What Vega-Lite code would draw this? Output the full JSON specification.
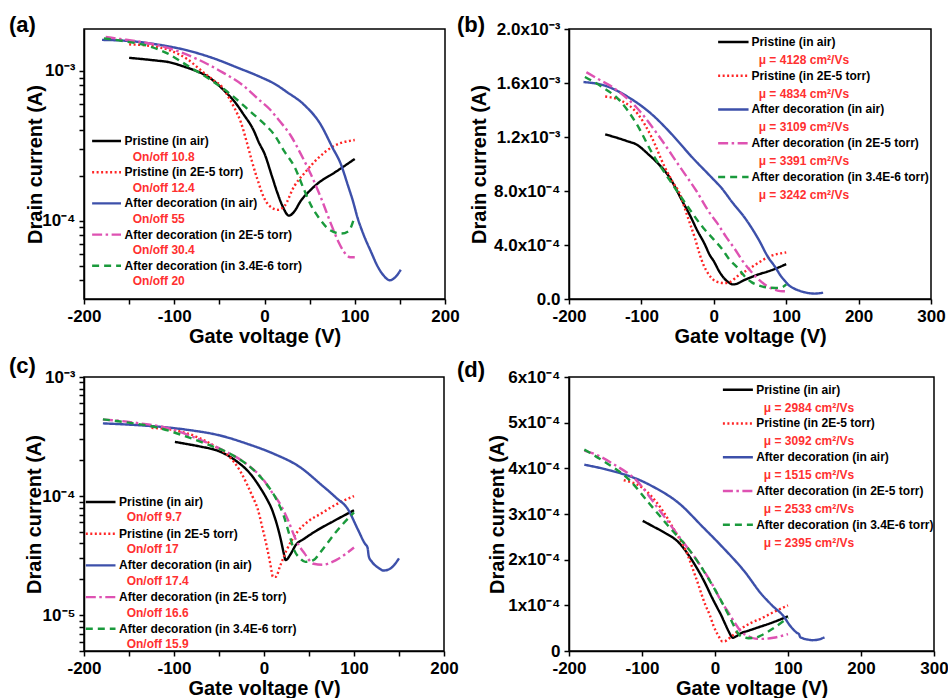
{
  "$schema": "https://vega.github.io/schema/vega-lite/v6.json",
  "background": "white",
  "padding": {"left": 8, "top": 13, "right": 0, "bottom": 0},
  "bounds": "flush",
  "columns": 2,
  "spacing": {"row": 78, "column": 124},
  "config": {
    "font": "Liberation Sans",
    "view": {"stroke": "black", "strokeWidth": 1.5},
    "axis": {"labelFont": "Liberation Sans", "titleFont": "Liberation Sans", "labelFontSize": 17, "labelFontWeight": "bold", "titleFontSize": 20, "titleFontWeight": "bold", "labelColor": "black", "titleColor": "black", "domainColor": "black", "domainWidth": 1.5, "tickColor": "black", "tickWidth": 1.5, "tickSize": 5, "grid": false, "labelPadding": 4, "labelOverlap": false, "labelFlush": false},
    "axisX": {"minExtent": 26, "maxExtent": 26, "titlePadding": 1},
    "legend": {"disable": true},
    "line": {"interpolate": "monotone", "strokeWidth": 2.4},
    "title": {"font": "Liberation Sans", "color": "black", "fontSize": 22, "fontWeight": "bold", "anchor": "start", "frame": "group", "offset": 0},
    "text": {"font": "Liberation Sans", "color": "black"}
  },
  "datasets": {
    "bi": [
      {"s":"Pristine air","v":-150,"i":1.22e-3},{"s":"Pristine air","v":-120,"i":1.17e-3},{"s":"Pristine air","v":-107,"i":1.145e-3},{"s":"Pristine air","v":-90,"i":1.07e-3},{"s":"Pristine air","v":-80,"i":1.02e-3},{"s":"Pristine air","v":-61,"i":0.90e-3},{"s":"Pristine air","v":-43,"i":0.72e-3},{"s":"Pristine air","v":-32,"i":0.61e-3},{"s":"Pristine air","v":-24,"i":0.52e-3},{"s":"Pristine air","v":-12,"i":0.40e-3},{"s":"Pristine air","v":-6,"i":0.33e-3},{"s":"Pristine air","v":0,"i":0.28e-3},{"s":"Pristine air","v":8,"i":0.20e-3},{"s":"Pristine air","v":14,"i":0.155e-3},{"s":"Pristine air","v":20,"i":0.125e-3},{"s":"Pristine air","v":27,"i":0.108e-3},{"s":"Pristine air","v":33,"i":0.115e-3},{"s":"Pristine air","v":40,"i":0.135e-3},{"s":"Pristine air","v":50,"i":0.158e-3},{"s":"Pristine air","v":59,"i":0.177e-3},{"s":"Pristine air","v":78,"i":0.21e-3},{"s":"Pristine air","v":100,"i":0.258e-3},
      {"s":"Pristine 2E-5","v":-150,"i":1.50e-3},{"s":"Pristine 2E-5","v":-128,"i":1.47e-3},{"s":"Pristine 2E-5","v":-105,"i":1.37e-3},{"s":"Pristine 2E-5","v":-86,"i":1.20e-3},{"s":"Pristine 2E-5","v":-68,"i":0.98e-3},{"s":"Pristine 2E-5","v":-56,"i":0.86e-3},{"s":"Pristine 2E-5","v":-47,"i":0.78e-3},{"s":"Pristine 2E-5","v":-40,"i":0.67e-3},{"s":"Pristine 2E-5","v":-33,"i":0.56e-3},{"s":"Pristine 2E-5","v":-26,"i":0.45e-3},{"s":"Pristine 2E-5","v":-20,"i":0.34e-3},{"s":"Pristine 2E-5","v":-14,"i":0.25e-3},{"s":"Pristine 2E-5","v":-8,"i":0.19e-3},{"s":"Pristine 2E-5","v":0,"i":0.14e-3},{"s":"Pristine 2E-5","v":8,"i":0.122e-3},{"s":"Pristine 2E-5","v":15,"i":0.118e-3},{"s":"Pristine 2E-5","v":22,"i":0.125e-3},{"s":"Pristine 2E-5","v":33,"i":0.17e-3},{"s":"Pristine 2E-5","v":45,"i":0.21e-3},{"s":"Pristine 2E-5","v":59,"i":0.26e-3},{"s":"Pristine 2E-5","v":77,"i":0.315e-3},{"s":"Pristine 2E-5","v":100,"i":0.345e-3},
      {"s":"Decorated air","v":-180,"i":1.607e-3},{"s":"Decorated air","v":-150,"i":1.58e-3},{"s":"Decorated air","v":-118,"i":1.495e-3},{"s":"Decorated air","v":-86,"i":1.37e-3},{"s":"Decorated air","v":-58,"i":1.22e-3},{"s":"Decorated air","v":-30,"i":1.05e-3},{"s":"Decorated air","v":-3,"i":0.90e-3},{"s":"Decorated air","v":11,"i":0.82e-3},{"s":"Decorated air","v":25,"i":0.72e-3},{"s":"Decorated air","v":43,"i":0.60e-3},{"s":"Decorated air","v":62,"i":0.44e-3},{"s":"Decorated air","v":75,"i":0.31e-3},{"s":"Decorated air","v":85,"i":0.235e-3},{"s":"Decorated air","v":92,"i":0.175e-3},{"s":"Decorated air","v":98,"i":0.135e-3},{"s":"Decorated air","v":103,"i":0.105e-3},{"s":"Decorated air","v":110,"i":0.08e-3},{"s":"Decorated air","v":118,"i":0.062e-3},{"s":"Decorated air","v":125,"i":0.05e-3},{"s":"Decorated air","v":132,"i":0.043e-3},{"s":"Decorated air","v":139,"i":0.040e-3},{"s":"Decorated air","v":145,"i":0.042e-3},{"s":"Decorated air","v":151,"i":0.047e-3},
      {"s":"Decorated 2E-5","v":-176,"i":1.68e-3},{"s":"Decorated 2E-5","v":-160,"i":1.63e-3},{"s":"Decorated 2E-5","v":-140,"i":1.57e-3},{"s":"Decorated 2E-5","v":-107,"i":1.42e-3},{"s":"Decorated 2E-5","v":-75,"i":1.20e-3},{"s":"Decorated 2E-5","v":-47,"i":0.98e-3},{"s":"Decorated 2E-5","v":-24,"i":0.80e-3},{"s":"Decorated 2E-5","v":-6,"i":0.64e-3},{"s":"Decorated 2E-5","v":5,"i":0.56e-3},{"s":"Decorated 2E-5","v":17,"i":0.46e-3},{"s":"Decorated 2E-5","v":29,"i":0.37e-3},{"s":"Decorated 2E-5","v":40,"i":0.28e-3},{"s":"Decorated 2E-5","v":52,"i":0.20e-3},{"s":"Decorated 2E-5","v":63,"i":0.14e-3},{"s":"Decorated 2E-5","v":74,"i":0.094e-3},{"s":"Decorated 2E-5","v":82,"i":0.072e-3},{"s":"Decorated 2E-5","v":88,"i":0.062e-3},{"s":"Decorated 2E-5","v":95,"i":0.057e-3},{"s":"Decorated 2E-5","v":100,"i":0.057e-3},
      {"s":"Decorated 3.4E-6","v":-178,"i":1.645e-3},{"s":"Decorated 3.4E-6","v":-154,"i":1.57e-3},{"s":"Decorated 3.4E-6","v":-130,"i":1.47e-3},{"s":"Decorated 3.4E-6","v":-107,"i":1.30e-3},{"s":"Decorated 3.4E-6","v":-84,"i":1.07e-3},{"s":"Decorated 3.4E-6","v":-61,"i":0.88e-3},{"s":"Decorated 3.4E-6","v":-38,"i":0.70e-3},{"s":"Decorated 3.4E-6","v":-15,"i":0.53e-3},{"s":"Decorated 3.4E-6","v":0,"i":0.44e-3},{"s":"Decorated 3.4E-6","v":10,"i":0.38e-3},{"s":"Decorated 3.4E-6","v":22,"i":0.29e-3},{"s":"Decorated 3.4E-6","v":33,"i":0.23e-3},{"s":"Decorated 3.4E-6","v":44,"i":0.16e-3},{"s":"Decorated 3.4E-6","v":52,"i":0.125e-3},{"s":"Decorated 3.4E-6","v":60,"i":0.105e-3},{"s":"Decorated 3.4E-6","v":72,"i":0.087e-3},{"s":"Decorated 3.4E-6","v":85,"i":0.082e-3},{"s":"Decorated 3.4E-6","v":93,"i":0.085e-3},{"s":"Decorated 3.4E-6","v":100,"i":0.107e-3}
    ],
    "mono": [
      {"s":"Pristine air","v":-99,"i":2.85e-4},{"s":"Pristine air","v":-85,"i":2.73e-4},{"s":"Pristine air","v":-70,"i":2.6e-4},{"s":"Pristine air","v":-50,"i":2.38e-4},{"s":"Pristine air","v":-32,"i":2.0e-4},{"s":"Pristine air","v":-14,"i":1.5e-4},{"s":"Pristine air","v":-5,"i":1.2e-4},{"s":"Pristine air","v":4,"i":0.92e-4},{"s":"Pristine air","v":8,"i":0.8e-4},{"s":"Pristine air","v":12,"i":0.66e-4},{"s":"Pristine air","v":16,"i":0.52e-4},{"s":"Pristine air","v":19,"i":0.42e-4},{"s":"Pristine air","v":22,"i":0.33e-4},{"s":"Pristine air","v":24,"i":0.29e-4},{"s":"Pristine air","v":30,"i":0.33e-4},{"s":"Pristine air","v":35,"i":0.385e-4},{"s":"Pristine air","v":45,"i":0.44e-4},{"s":"Pristine air","v":56,"i":0.5e-4},{"s":"Pristine air","v":78,"i":0.62e-4},{"s":"Pristine air","v":100,"i":0.76e-4},
      {"s":"Pristine 2E-5","v":-125,"i":3.74e-4},{"s":"Pristine 2E-5","v":-100,"i":3.58e-4},{"s":"Pristine 2E-5","v":-72,"i":3.08e-4},{"s":"Pristine 2E-5","v":-54,"i":2.6e-4},{"s":"Pristine 2E-5","v":-40,"i":2.2e-4},{"s":"Pristine 2E-5","v":-26,"i":1.6e-4},{"s":"Pristine 2E-5","v":-13,"i":1.0e-4},{"s":"Pristine 2E-5","v":-7,"i":0.78e-4},{"s":"Pristine 2E-5","v":-2,"i":0.55e-4},{"s":"Pristine 2E-5","v":3,"i":0.38e-4},{"s":"Pristine 2E-5","v":7,"i":0.27e-4},{"s":"Pristine 2E-5","v":10,"i":0.21e-4},{"s":"Pristine 2E-5","v":13,"i":0.21e-4},{"s":"Pristine 2E-5","v":18,"i":0.26e-4},{"s":"Pristine 2E-5","v":25,"i":0.35e-4},{"s":"Pristine 2E-5","v":37,"i":0.5e-4},{"s":"Pristine 2E-5","v":50,"i":0.62e-4},{"s":"Pristine 2E-5","v":63,"i":0.71e-4},{"s":"Pristine 2E-5","v":80,"i":0.85e-4},{"s":"Pristine 2E-5","v":100,"i":1.0e-4},
      {"s":"Decorated air","v":-179,"i":4.08e-4},{"s":"Decorated air","v":-150,"i":3.98e-4},{"s":"Decorated air","v":-127,"i":3.88e-4},{"s":"Decorated air","v":-100,"i":3.72e-4},{"s":"Decorated air","v":-85,"i":3.6e-4},{"s":"Decorated air","v":-49,"i":3.23e-4},{"s":"Decorated air","v":-17,"i":2.72e-4},{"s":"Decorated air","v":10,"i":2.28e-4},{"s":"Decorated air","v":40,"i":1.75e-4},{"s":"Decorated air","v":65,"i":1.22e-4},{"s":"Decorated air","v":72,"i":1.1e-4},{"s":"Decorated air","v":80,"i":0.97e-4},{"s":"Decorated air","v":93,"i":0.78e-4},{"s":"Decorated air","v":104,"i":0.53e-4},{"s":"Decorated air","v":112,"i":0.40e-4},{"s":"Decorated air","v":115,"i":0.37e-4},{"s":"Decorated air","v":116.5,"i":0.31e-4},{"s":"Decorated air","v":120,"i":0.28e-4},{"s":"Decorated air","v":127,"i":0.25e-4},{"s":"Decorated air","v":133,"i":0.237e-4},{"s":"Decorated air","v":140,"i":0.245e-4},{"s":"Decorated air","v":150,"i":0.30e-4},
      {"s":"Decorated 2E-5","v":-179,"i":4.39e-4},{"s":"Decorated 2E-5","v":-160,"i":4.28e-4},{"s":"Decorated 2E-5","v":-140,"i":4.1e-4},{"s":"Decorated 2E-5","v":-108,"i":3.74e-4},{"s":"Decorated 2E-5","v":-76,"i":3.08e-4},{"s":"Decorated 2E-5","v":-49,"i":2.5e-4},{"s":"Decorated 2E-5","v":-22,"i":1.92e-4},{"s":"Decorated 2E-5","v":0,"i":1.35e-4},{"s":"Decorated 2E-5","v":8,"i":1.1e-4},{"s":"Decorated 2E-5","v":19,"i":0.83e-4},{"s":"Decorated 2E-5","v":27,"i":0.62e-4},{"s":"Decorated 2E-5","v":36,"i":0.42e-4},{"s":"Decorated 2E-5","v":45,"i":0.33e-4},{"s":"Decorated 2E-5","v":55,"i":0.27e-4},{"s":"Decorated 2E-5","v":65,"i":0.265e-4},{"s":"Decorated 2E-5","v":80,"i":0.29e-4},{"s":"Decorated 2E-5","v":100,"i":0.37e-4},
      {"s":"Decorated 3.4E-6","v":-179,"i":4.41e-4},{"s":"Decorated 3.4E-6","v":-154,"i":4.17e-4},{"s":"Decorated 3.4E-6","v":-117,"i":3.74e-4},{"s":"Decorated 3.4E-6","v":-90,"i":3.23e-4},{"s":"Decorated 3.4E-6","v":-63,"i":2.72e-4},{"s":"Decorated 3.4E-6","v":-35,"i":2.21e-4},{"s":"Decorated 3.4E-6","v":-8,"i":1.56e-4},{"s":"Decorated 3.4E-6","v":5,"i":1.2e-4},{"s":"Decorated 3.4E-6","v":15,"i":0.9e-4},{"s":"Decorated 3.4E-6","v":22,"i":0.68e-4},{"s":"Decorated 3.4E-6","v":28,"i":0.48e-4},{"s":"Decorated 3.4E-6","v":33,"i":0.36e-4},{"s":"Decorated 3.4E-6","v":40,"i":0.3e-4},{"s":"Decorated 3.4E-6","v":46,"i":0.28e-4},{"s":"Decorated 3.4E-6","v":55,"i":0.29e-4},{"s":"Decorated 3.4E-6","v":63,"i":0.34e-4},{"s":"Decorated 3.4E-6","v":80,"i":0.5e-4},{"s":"Decorated 3.4E-6","v":100,"i":0.73e-4}
    ],
    "leg": [
      {"p":"a","k":0,"s":"Pristine air","label":"Pristine (in air)","sub":"On/off  10.8"},
      {"p":"a","k":1,"s":"Pristine 2E-5","label":"Pristine  (in 2E-5 torr)","sub":"On/off  12.4"},
      {"p":"a","k":2,"s":"Decorated air","label":"After decoration (in air)","sub":"On/off  55"},
      {"p":"a","k":3,"s":"Decorated 2E-5","label":"After decoration (in 2E-5 torr)","sub":"On/off  30.4"},
      {"p":"a","k":4,"s":"Decorated 3.4E-6","label":"After decoration (in 3.4E-6 torr)","sub":"On/off  20"},
      {"p":"b","k":0,"s":"Pristine air","label":"Pristine (in air)","sub":"μ = 4128  cm²/Vs"},
      {"p":"b","k":1,"s":"Pristine 2E-5","label":"Pristine  (in 2E-5 torr)","sub":"μ = 4834  cm²/Vs"},
      {"p":"b","k":2,"s":"Decorated air","label":"After decoration (in air)","sub":"μ = 3109  cm²/Vs"},
      {"p":"b","k":3,"s":"Decorated 2E-5","label":"After decoration (in 2E-5 torr)","sub":"μ = 3391  cm²/Vs"},
      {"p":"b","k":4,"s":"Decorated 3.4E-6","label":"After decoration (in 3.4E-6 torr)","sub":"μ = 3242  cm²/Vs"},
      {"p":"c","k":0,"s":"Pristine air","label":"Pristine (in air)","sub":"On/off  9.7"},
      {"p":"c","k":1,"s":"Pristine 2E-5","label":"Pristine  (in 2E-5 torr)","sub":"On/off  17"},
      {"p":"c","k":2,"s":"Decorated air","label":"After decoration (in air)","sub":"On/off  17.4"},
      {"p":"c","k":3,"s":"Decorated 2E-5","label":"After decoration (in 2E-5 torr)","sub":"On/off  16.6"},
      {"p":"c","k":4,"s":"Decorated 3.4E-6","label":"After decoration (in 3.4E-6 torr)","sub":"On/off  15.9"},
      {"p":"d","k":0,"s":"Pristine air","label":"Pristine (in air)","sub":"μ = 2984  cm²/Vs"},
      {"p":"d","k":1,"s":"Pristine 2E-5","label":"Pristine  (in 2E-5 torr)","sub":"μ = 3092  cm²/Vs"},
      {"p":"d","k":2,"s":"Decorated air","label":"After decoration (in air)","sub":"μ = 1515  cm²/Vs"},
      {"p":"d","k":3,"s":"Decorated 2E-5","label":"After decoration (in 2E-5 torr)","sub":"μ = 2533  cm²/Vs"},
      {"p":"d","k":4,"s":"Decorated 3.4E-6","label":"After decoration (in 3.4E-6 torr)","sub":"μ = 2395  cm²/Vs"}
    ]
  },
  "concat": [
    {
      "width": 361, "height": 270,
      "title": {"text": "(a)", "dx": -75, "dy": 12},
      "resolve": {"scale": {"y": "independent"}},
      "layer": [
        {"layer": [
          {"data": {"name": "bi"}, "mark": {"type": "line"},
           "encoding": {
             "x": {"field": "v", "type": "quantitative", "scale": {"domain": [-200, 200], "nice": false}, "axis": {"title": "Gate voltage (V)", "values": [-200,-150,-100,-50,0,50,100,150,200], "labelExpr": "datum.value % 100 == 0 ? '' + datum.value : ''"}},
             "y": {"field": "i", "type": "quantitative", "scale": {"type": "log", "domain": [3e-5, 1.9e-3], "nice": false}, "axis": {"title": "Drain current (A)", "minExtent": 36, "maxExtent": 36, "titlePadding": 3, "values": [4e-5,5e-5,6e-5,7e-5,8e-5,9e-5,1e-4,2e-4,3e-4,4e-4,5e-4,6e-4,7e-4,8e-4,9e-4,1e-3], "labelExpr": "datum.value == 1e-3 ? '10⁻³' : datum.value == 1e-4 ? '10⁻⁴' : ''"}},
             "color": {"field": "s", "type": "nominal", "scale": {"domain": ["Pristine air","Pristine 2E-5","Decorated air","Decorated 2E-5","Decorated 3.4E-6"], "range": ["#000000","#ff2525","#3d50aa","#de52b2","#1a9a3c"]}},
             "strokeDash": {"field": "s", "type": "nominal", "scale": {"domain": ["Pristine air","Pristine 2E-5","Decorated air","Decorated 2E-5","Decorated 3.4E-6"], "range": [[1,0],[2,2.5],[1,0],[10,3.5,2.5,3.5],[7,5]]}}
           }},
          {"mark": {"type": "text", "text": "bilayer", "align": "left", "baseline": "middle", "fontSize": 25, "fontWeight": "bold"},
           "encoding": {"x": {"datum": 86}, "y": {"datum": 0.00145}}}
        ]},
        {"data": {"name": "leg"}, "transform": [{"filter": "datum.p == 'a'"}],
         "layer": [
          {"mark": {"type": "rule", "strokeWidth": 2.4},
           "encoding": {"x": {"datum": -191}, "x2": {"datum": -159}, "y": {"field": "k", "type": "quantitative", "scale": {"domain": [-3.59, 5.064], "reverse": true, "nice": false, "zero": false}, "axis": null},
             "color": {"field": "s", "type": "nominal", "scale": {"domain": ["Pristine air","Pristine 2E-5","Decorated air","Decorated 2E-5","Decorated 3.4E-6"], "range": ["#000000","#ff2525","#3d50aa","#de52b2","#1a9a3c"]}},
             "strokeDash": {"field": "s", "type": "nominal", "scale": {"domain": ["Pristine air","Pristine 2E-5","Decorated air","Decorated 2E-5","Decorated 3.4E-6"], "range": [[1,0],[2,2.5],[1,0],[10,3.5,2.5,3.5],[7,5]]}}}},
          {"mark": {"type": "text", "align": "left", "baseline": "middle", "fontSize": 12, "fontWeight": "bold"},
           "encoding": {"x": {"datum": -155}, "y": {"field": "k", "type": "quantitative", "scale": {"domain": [-3.59, 5.064], "reverse": true, "nice": false, "zero": false}, "axis": null}, "text": {"field": "label"}}},
          {"mark": {"type": "text", "align": "left", "baseline": "middle", "fontSize": 12, "fontWeight": "bold", "dy": 15.6, "color": "#ff3030"},
           "encoding": {"x": {"datum": -146}, "y": {"field": "k", "type": "quantitative", "scale": {"domain": [-3.59, 5.064], "reverse": true, "nice": false, "zero": false}, "axis": null}, "text": {"field": "sub"}}}
         ]}
      ]
    },
    {
      "width": 362, "height": 270,
      "title": {"text": "(b)", "dx": -112, "dy": 21},
      "resolve": {"scale": {"y": "independent"}},
      "layer": [
        {"layer": [
          {"data": {"name": "bi"}, "mark": {"type": "line"},
           "encoding": {
             "x": {"field": "v", "type": "quantitative", "scale": {"domain": [-200, 300], "nice": false}, "axis": {"title": "Gate voltage (V)", "values": [-200,-150,-100,-50,0,50,100,150,200,250,300], "labelExpr": "datum.value % 100 == 0 ? '' + datum.value : ''"}},
             "y": {"field": "i", "type": "quantitative", "scale": {"domain": [0, 2e-3], "nice": false}, "axis": {"title": "Drain current (A)", "minExtent": 76, "maxExtent": 76, "titlePadding": 4, "values": [0,2e-4,4e-4,6e-4,8e-4,1e-3,1.2e-3,1.4e-3,1.6e-3,1.8e-3,2e-3], "labelExpr": "round(datum.value*1e4) % 4 == 0 ? (datum.value == 0 ? '0.0' : datum.value < 1e-3 ? format(datum.value*1e4, '.1f') + 'x10⁻⁴' : format(datum.value*1e3, '.1f') + 'x10⁻³') : ''"}},
             "color": {"field": "s", "type": "nominal", "scale": {"domain": ["Pristine air","Pristine 2E-5","Decorated air","Decorated 2E-5","Decorated 3.4E-6"], "range": ["#000000","#ff2525","#3d50aa","#de52b2","#1a9a3c"]}},
             "strokeDash": {"field": "s", "type": "nominal", "scale": {"domain": ["Pristine air","Pristine 2E-5","Decorated air","Decorated 2E-5","Decorated 3.4E-6"], "range": [[1,0],[2,2.5],[1,0],[10,3.5,2.5,3.5],[7,5]]}}
           }},
          {"mark": {"type": "text", "text": "bilayer", "align": "left", "baseline": "middle", "fontSize": 25, "fontWeight": "bold"},
           "encoding": {"x": {"datum": -183}, "y": {"datum": 0.00188}}}
        ]},
        {"data": {"name": "leg"}, "transform": [{"filter": "datum.p == 'b'"}],
         "layer": [
          {"mark": {"type": "rule", "strokeWidth": 2.4},
           "encoding": {"x": {"datum": 6}, "x2": {"datum": 48}, "y": {"field": "k", "type": "quantitative", "scale": {"domain": [-0.385, 7.615], "reverse": true, "nice": false, "zero": false}, "axis": null},
             "color": {"field": "s", "type": "nominal", "scale": {"domain": ["Pristine air","Pristine 2E-5","Decorated air","Decorated 2E-5","Decorated 3.4E-6"], "range": ["#000000","#ff2525","#3d50aa","#de52b2","#1a9a3c"]}},
             "strokeDash": {"field": "s", "type": "nominal", "scale": {"domain": ["Pristine air","Pristine 2E-5","Decorated air","Decorated 2E-5","Decorated 3.4E-6"], "range": [[1,0],[2,2.5],[1,0],[10,3.5,2.5,3.5],[7,5]]}}}},
          {"mark": {"type": "text", "align": "left", "baseline": "middle", "fontSize": 12, "fontWeight": "bold"},
           "encoding": {"x": {"datum": 52}, "y": {"field": "k", "type": "quantitative", "scale": {"domain": [-0.385, 7.615], "reverse": true, "nice": false, "zero": false}, "axis": null}, "text": {"field": "label"}}},
          {"mark": {"type": "text", "align": "left", "baseline": "middle", "fontSize": 12, "fontWeight": "bold", "dy": 18, "color": "#ff3030"},
           "encoding": {"x": {"datum": 62}, "y": {"field": "k", "type": "quantitative", "scale": {"domain": [-0.385, 7.615], "reverse": true, "nice": false, "zero": false}, "axis": null}, "text": {"field": "sub"}}}
         ]}
      ]
    },
    {
      "width": 360, "height": 274,
      "title": {"text": "(c)", "dx": -75, "dy": 14},
      "resolve": {"scale": {"y": "independent"}},
      "layer": [
        {"layer": [
          {"data": {"name": "mono"}, "mark": {"type": "line"},
           "encoding": {
             "x": {"field": "v", "type": "quantitative", "scale": {"domain": [-200, 200], "nice": false}, "axis": {"title": "Gate voltage (V)", "values": [-200,-150,-100,-50,0,50,100,150,200], "labelExpr": "datum.value % 100 == 0 ? '' + datum.value : ''"}},
             "y": {"field": "i", "type": "quantitative", "scale": {"type": "log", "domain": [5e-6, 1e-3], "nice": false}, "axis": {"title": "Drain current (A)", "minExtent": 36, "maxExtent": 36, "titlePadding": 4, "values": [5e-6,6e-6,7e-6,8e-6,9e-6,1e-5,2e-5,3e-5,4e-5,5e-5,6e-5,7e-5,8e-5,9e-5,1e-4,2e-4,3e-4,4e-4,5e-4,6e-4,7e-4,8e-4,9e-4,1e-3], "labelExpr": "datum.value == 1e-3 ? '10⁻³' : datum.value == 1e-4 ? '10⁻⁴' : datum.value == 1e-5 ? '10⁻⁵' : ''"}},
             "color": {"field": "s", "type": "nominal", "scale": {"domain": ["Pristine air","Pristine 2E-5","Decorated air","Decorated 2E-5","Decorated 3.4E-6"], "range": ["#000000","#ff2525","#3d50aa","#de52b2","#1a9a3c"]}},
             "strokeDash": {"field": "s", "type": "nominal", "scale": {"domain": ["Pristine air","Pristine 2E-5","Decorated air","Decorated 2E-5","Decorated 3.4E-6"], "range": [[1,0],[2,2.5],[1,0],[10,3.5,2.5,3.5],[7,5]]}}
           }},
          {"mark": {"type": "text", "text": "monolayer", "align": "left", "baseline": "middle", "fontSize": 25, "fontWeight": "bold"},
           "encoding": {"x": {"datum": 44}, "y": {"datum": 0.000703}}}
        ]},
        {"data": {"name": "leg"}, "transform": [{"filter": "datum.p == 'c'"}],
         "layer": [
          {"mark": {"type": "rule", "strokeWidth": 2.4},
           "encoding": {"x": {"datum": -198}, "x2": {"datum": -165}, "y": {"field": "k", "type": "quantitative", "scale": {"domain": [-3.943, 4.701], "reverse": true, "nice": false, "zero": false}, "axis": null},
             "color": {"field": "s", "type": "nominal", "scale": {"domain": ["Pristine air","Pristine 2E-5","Decorated air","Decorated 2E-5","Decorated 3.4E-6"], "range": ["#000000","#ff2525","#3d50aa","#de52b2","#1a9a3c"]}},
             "strokeDash": {"field": "s", "type": "nominal", "scale": {"domain": ["Pristine air","Pristine 2E-5","Decorated air","Decorated 2E-5","Decorated 3.4E-6"], "range": [[1,0],[2,2.5],[1,0],[10,3.5,2.5,3.5],[7,5]]}}}},
          {"mark": {"type": "text", "align": "left", "baseline": "middle", "fontSize": 12, "fontWeight": "bold"},
           "encoding": {"x": {"datum": -161}, "y": {"field": "k", "type": "quantitative", "scale": {"domain": [-3.943, 4.701], "reverse": true, "nice": false, "zero": false}, "axis": null}, "text": {"field": "label"}}},
          {"mark": {"type": "text", "align": "left", "baseline": "middle", "fontSize": 12, "fontWeight": "bold", "dy": 15.5, "color": "#ff3030"},
           "encoding": {"x": {"datum": -152.6}, "y": {"field": "k", "type": "quantitative", "scale": {"domain": [-3.943, 4.701], "reverse": true, "nice": false, "zero": false}, "axis": null}, "text": {"field": "sub"}}}
         ]}
      ]
    },
    {
      "width": 365, "height": 274,
      "title": {"text": "(d)", "dx": -112, "dy": 18},
      "resolve": {"scale": {"y": "independent"}},
      "layer": [
        {"layer": [
          {"data": {"name": "mono"}, "mark": {"type": "line"},
           "encoding": {
             "x": {"field": "v", "type": "quantitative", "scale": {"domain": [-200, 300], "nice": false}, "axis": {"title": "Gate voltage (V)", "values": [-200,-150,-100,-50,0,50,100,150,200,250,300], "labelExpr": "datum.value % 100 == 0 ? '' + datum.value : ''"}},
             "y": {"field": "i", "type": "quantitative", "scale": {"domain": [0, 6e-4], "nice": false}, "axis": {"title": "Drain current (A)", "minExtent": 58, "maxExtent": 58, "titlePadding": 4, "values": [0,0.5e-4,1e-4,1.5e-4,2e-4,2.5e-4,3e-4,3.5e-4,4e-4,4.5e-4,5e-4,5.5e-4,6e-4], "labelExpr": "round(datum.value*2e4) % 2 == 0 ? (datum.value == 0 ? '0' : format(datum.value*1e4, '.0f') + 'x10⁻⁴') : ''"}},
             "color": {"field": "s", "type": "nominal", "scale": {"domain": ["Pristine air","Pristine 2E-5","Decorated air","Decorated 2E-5","Decorated 3.4E-6"], "range": ["#000000","#ff2525","#3d50aa","#de52b2","#1a9a3c"]}},
             "strokeDash": {"field": "s", "type": "nominal", "scale": {"domain": ["Pristine air","Pristine 2E-5","Decorated air","Decorated 2E-5","Decorated 3.4E-6"], "range": [[1,0],[2,2.5],[1,0],[10,3.5,2.5,3.5],[7,5]]}}
           }},
          {"mark": {"type": "text", "text": "monolayer", "align": "left", "baseline": "middle", "fontSize": 25, "fontWeight": "bold"},
           "encoding": {"x": {"datum": -183}, "y": {"datum": 0.000563}}}
        ]},
        {"data": {"name": "leg"}, "transform": [{"filter": "datum.p == 'd'"}],
         "layer": [
          {"mark": {"type": "rule", "strokeWidth": 2.4},
           "encoding": {"x": {"datum": 10.8}, "x2": {"datum": 51.9}, "y": {"field": "k", "type": "quantitative", "scale": {"domain": [-0.376, 7.743], "reverse": true, "nice": false, "zero": false}, "axis": null},
             "color": {"field": "s", "type": "nominal", "scale": {"domain": ["Pristine air","Pristine 2E-5","Decorated air","Decorated 2E-5","Decorated 3.4E-6"], "range": ["#000000","#ff2525","#3d50aa","#de52b2","#1a9a3c"]}},
             "strokeDash": {"field": "s", "type": "nominal", "scale": {"domain": ["Pristine air","Pristine 2E-5","Decorated air","Decorated 2E-5","Decorated 3.4E-6"], "range": [[1,0],[2,2.5],[1,0],[10,3.5,2.5,3.5],[7,5]]}}}},
          {"mark": {"type": "text", "align": "left", "baseline": "middle", "fontSize": 12, "fontWeight": "bold"},
           "encoding": {"x": {"datum": 56.4}, "y": {"field": "k", "type": "quantitative", "scale": {"domain": [-0.376, 7.743], "reverse": true, "nice": false, "zero": false}, "axis": null}, "text": {"field": "label"}}},
          {"mark": {"type": "text", "align": "left", "baseline": "middle", "fontSize": 12, "fontWeight": "bold", "dy": 18, "color": "#ff3030"},
           "encoding": {"x": {"datum": 66.9}, "y": {"field": "k", "type": "quantitative", "scale": {"domain": [-0.376, 7.743], "reverse": true, "nice": false, "zero": false}, "axis": null}, "text": {"field": "sub"}}}
         ]}
      ]
    }
  ]
}
